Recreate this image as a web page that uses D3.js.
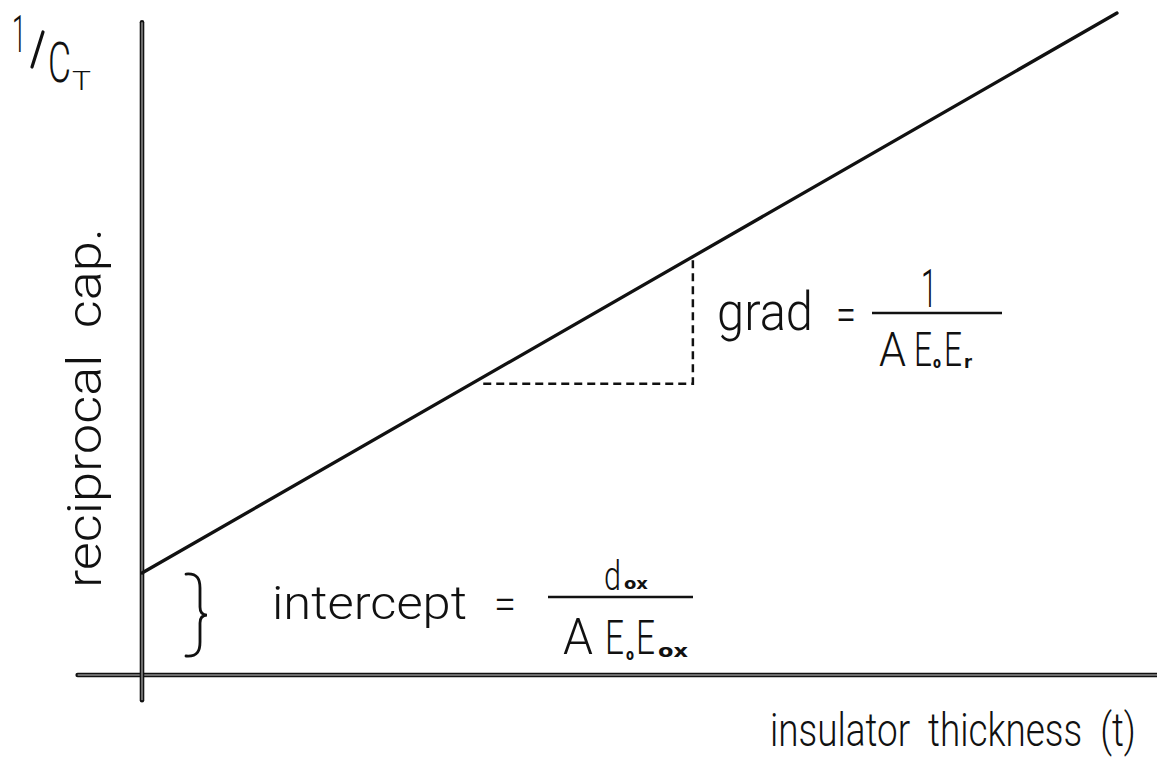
<!DOCTYPE html>
<html>
<head>
<meta charset="utf-8">
<script src="https://cdn.jsdelivr.net/npm/d3@7"></script>
<style>
  html, body { margin: 0; padding: 0; background: #fff; }
  svg { display: block; }
  text { font-family: Roboto, "DejaVu Sans", sans-serif; font-weight: 300; fill: #111; white-space: pre; }
  text.sub { font-family: "DejaVu Sans", sans-serif; font-weight: 700; }
</style>
</head>
<body>
<svg id="chart" width="1157" height="762"></svg>
<script>
// Schematic: reciprocal capacitance versus insulator thickness (arbitrary units)
const tDomain = [0, 10];          // insulator thickness
const vDomain = [0, 10];          // reciprocal capacitance
const lineT = [0, 10];            // straight-line fit end points (thickness)
const lineV = [1.54, 10];         // straight-line fit end points (1/C_T)
const stepT = [3.5, 5.65];        // run of the gradient triangle
const stepBaseV = 4.4;            // level of the triangle's horizontal leg
const xAxisT = [-0.66, 10.6];     // extent of the horizontal axis
const yAxisV = [-0.38, 9.86];     // extent of the vertical axis

const yTitle = "reciprocal  cap.";
const xTitle = "insulator  thickness  (t)";
const gradWord = "grad";
const interceptWord = "intercept";

const svg = d3.select("#chart");

const x = d3.scaleLinear().domain(tDomain).range([142, 1117]);
const y = d3.scaleLinear().domain(vDomain).range([675, 13]);

const ink = "#111";

// value of the fitted line at thickness t
const lineAt = t => lineV[0] + (lineV[1] - lineV[0]) * (t - lineT[0]) / (lineT[1] - lineT[0]);

// axes: heavy inked rules with a pale hairline core
function rule(x1, y1, x2, y2) {
  svg.append("line").attr("x1", x1).attr("y1", y1).attr("x2", x2).attr("y2", y2)
    .attr("stroke", ink).attr("stroke-width", 4.6).attr("stroke-linecap", "round");
  svg.append("line").attr("x1", x1).attr("y1", y1).attr("x2", x2).attr("y2", y2)
    .attr("stroke", "#c8c8c8").attr("stroke-width", 1);
}
rule(x(xAxisT[0]), y(0), x(xAxisT[1]), y(0));
rule(x(0), y(yAxisV[0]), x(0), y(yAxisV[1]));

// fitted line
const lineGen = d3.line().x(d => x(d[0])).y(d => y(d[1]));
svg.append("path")
  .datum(d3.zip(lineT, lineV))
  .attr("d", lineGen)
  .attr("fill", "none")
  .attr("stroke", ink)
  .attr("stroke-width", 3.3)
  .attr("stroke-linecap", "round");

// dashed gradient triangle
svg.append("path")
  .datum([[stepT[0], stepBaseV], [stepT[1], stepBaseV], [stepT[1], lineAt(stepT[1])]])
  .attr("d", lineGen)
  .attr("fill", "none")
  .attr("stroke", ink)
  .attr("stroke-width", 2.5)
  .attr("stroke-dasharray", "8,5");

// brace spanning the intercept
const bx = 186, bTop = y(lineV[0]) + 1, bBot = y(0) - 19, bMid = (bTop + bBot) / 2;
svg.append("path")
  .attr("d", `M${bx},${bTop} C${bx + 12},${bTop - 1} ${bx + 14},${bTop + 6} ${bx + 14},${bTop + 14}
              L${bx + 14},${bMid - 8} C${bx + 14},${bMid - 2} ${bx + 17},${bMid} ${bx + 21},${bMid}
              C${bx + 17},${bMid} ${bx + 14},${bMid + 2} ${bx + 14},${bMid + 8}
              L${bx + 14},${bBot - 14} C${bx + 14},${bBot - 6} ${bx + 12},${bBot + 1} ${bx},${bBot}`)
  .attr("fill", "none").attr("stroke", ink).attr("stroke-width", 2.8).attr("stroke-linecap", "round");

// text helper: draws a string at (px, py) and squeezes it horizontally to a target width
function label(str, px, py, size, len, opts = {}) {
  const t = svg.append("text").attr("font-size", size).text(str);
  if (opts.cls) t.attr("class", opts.cls);
  const natural = t.node().getComputedTextLength();
  const sx = len ? len / natural : 1;
  const rot = opts.rotate ? ` rotate(${opts.rotate})` : "";
  t.attr("transform", `translate(${px},${py})${rot} scale(${sx},1)`);
  return t;
}
function fracBar(x1, x2, yy) {
  svg.append("line").attr("x1", x1).attr("x2", x2).attr("y1", yy).attr("y2", yy)
    .attr("stroke", ink).attr("stroke-width", 2.6);
}

// y-axis symbol 1/C_T
label("1", 12, 52, 52, 14);
svg.append("line").attr("x1", 43).attr("y1", 32).attr("x2", 32).attr("y2", 67)
  .attr("stroke", ink).attr("stroke-width", 3.2).attr("stroke-linecap", "round");
label("C", 48, 82, 55, 23);
label("T", 72, 90, 26, 19);

// axis titles
label(yTitle, 101, 588, 48, 360, { rotate: -90 });
label(xTitle, 770, 746, 46, 366);

// gradient annotation
label(gradWord, 717, 330, 53, 96);
label("=", 836, 330, 46, 20);
fracBar(872, 1002, 313);
label("1", 921, 307, 53, 16);
label("A", 879, 366, 48, 27);
label("E", 914, 366, 48, 18);
label("o", 933, 368, 15, 8, { cls: "sub" });
label("E", 944, 366, 48, 18);
label("r", 964, 368, 17, 8, { cls: "sub" });

// intercept annotation
label(interceptWord, 272, 619, 47, 195);
label("=", 494, 619, 44, 22);
fracBar(548, 693, 597);
label("d", 604, 590, 40, 17);
label("ox", 624, 589, 16, 24, { cls: "sub" });
label("A", 563, 654, 49, 30);
label("E", 605, 654, 49, 19);
label("o", 626, 660, 15, 8, { cls: "sub" });
label("E", 636, 654, 49, 19);
label("ox", 658, 657, 17, 30, { cls: "sub" });
</script>
</body>
</html>
